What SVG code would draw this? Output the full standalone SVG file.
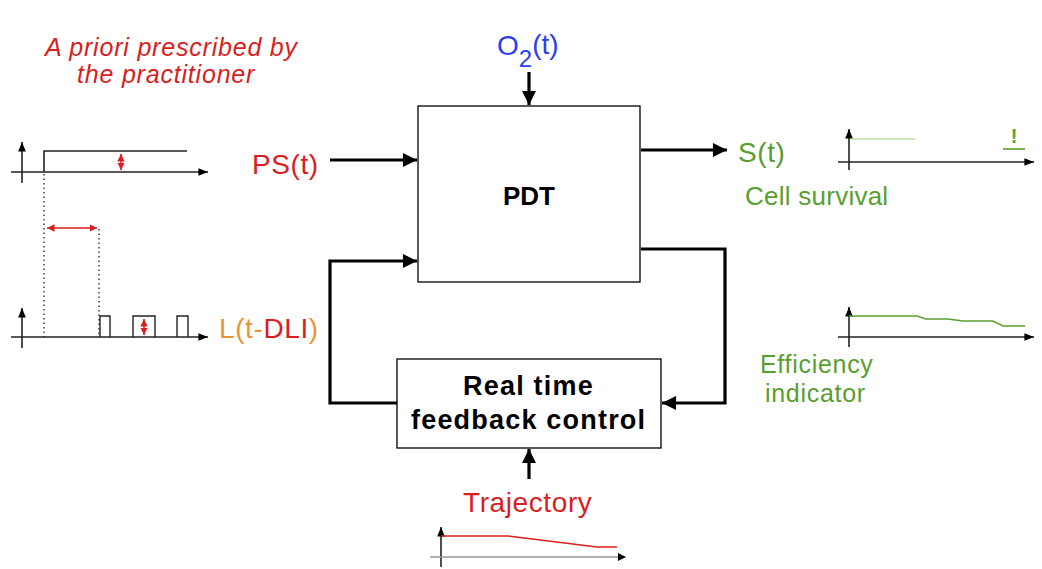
<svg xmlns="http://www.w3.org/2000/svg" width="1042" height="569" viewBox="0 0 1042 569">
<style>
text{font-family:"Liberation Sans",Arial,sans-serif}
.lbl{font-size:28px;letter-spacing:0.6px}
.glbl{font-size:26px;letter-spacing:0.25px}
.bold{font-weight:bold;font-size:27px;letter-spacing:1.2px;fill:#000}
.red{fill:#d81e1e}
.green{fill:#5a9e2f}
.orange{fill:#e8953a}
.blue{fill:#2a3ff0}
.box{fill:#fff;stroke:#000;stroke-width:1.3}
.conn{fill:none;stroke:#000;stroke-width:3.2}
.axis{fill:none;stroke:#222;stroke-width:1.6}
.sig{fill:none;stroke:#222;stroke-width:1.6}
.dot{fill:none;stroke:#222;stroke-width:1.3;stroke-dasharray:1.5 3}
.rarr{fill:none;stroke:#d81e1e;stroke-width:1.5}
</style>
<defs>
<marker id="ah" viewBox="0 0 10 10" refX="10" refY="5" markerWidth="5" markerHeight="4.4" markerUnits="strokeWidth" orient="auto">
<path d="M0,0 L10,5 L0,10 z" fill="#000"/>
</marker>
<marker id="axh" viewBox="0 0 10 10" refX="10" refY="5" markerWidth="6" markerHeight="6" markerUnits="strokeWidth" orient="auto">
<path d="M0,1 L10,5 L0,9 z" fill="#000"/>
</marker>
<marker id="rh" viewBox="0 0 10 10" refX="10" refY="5" markerWidth="5" markerHeight="5" markerUnits="strokeWidth" orient="auto-start-reverse">
<path d="M0,0 L10,5 L0,10 z" fill="#d81e1e"/>
</marker>
</defs>

<g id="note">
<text x="45" y="56" class="red" font-size="25" letter-spacing="0.8" font-style="italic">A priori prescribed by</text>
<text x="77" y="83" class="red" font-size="25" letter-spacing="0.8" font-style="italic">the practitioner</text>
</g>

<g id="ps-plot">
<line x1="22" y1="183" x2="22" y2="142" class="axis" marker-end="url(#axh)"/>
<line x1="11" y1="172" x2="208" y2="172" class="axis" marker-end="url(#axh)"/>
<polyline points="44,172 44,151 187,151" class="sig"/>
<line x1="121" y1="154" x2="121" y2="170" class="rarr" marker-start="url(#rh)" marker-end="url(#rh)"/>
<line x1="44" y1="174" x2="44" y2="337" class="dot"/>
<line x1="99" y1="229" x2="99" y2="337" class="dot"/>
<line x1="47" y1="228" x2="97" y2="228" class="rarr" marker-start="url(#rh)" marker-end="url(#rh)"/>
</g>

<g id="l-plot">
<line x1="22" y1="348" x2="22" y2="308" class="axis" marker-end="url(#axh)"/>
<line x1="11" y1="337" x2="208" y2="337" class="axis" marker-end="url(#axh)"/>
<polyline points="100,337 100,316 110,316 110,337" fill="none" stroke="#222" stroke-width="1.4"/>
<polyline points="133,337 133,316 155,316 155,337" fill="none" stroke="#222" stroke-width="1.4"/>
<polyline points="177,337 177,316 188,316 188,337" fill="none" stroke="#222" stroke-width="1.4"/>
<line x1="144" y1="319" x2="144" y2="335" class="rarr" marker-start="url(#rh)" marker-end="url(#rh)"/>
</g>

<g id="ps-label"><text x="252" y="174" class="lbl red">PS(t)</text></g>
<g id="l-label"><text x="219" y="338" class="lbl"><tspan class="orange">L(t-</tspan><tspan class="red">DLI</tspan><tspan class="orange">)</tspan></text></g>
<g id="o2-label"><text x="497" y="55" class="blue" font-size="28">O<tspan font-size="24" dy="12">2</tspan><tspan dy="-13">(t)</tspan></text></g>
<g id="s-label"><text x="738" y="162" class="lbl green">S(t)</text></g>
<g id="cell-survival"><text x="745" y="205" class="glbl green">Cell survival</text></g>
<g id="efficiency"><text x="760" y="373" class="green" font-size="25" letter-spacing="0.7">Efficiency</text><text x="765" y="402" class="green" font-size="25" letter-spacing="0.7">indicator</text></g>
<g id="trajectory"><text x="463" y="512" class="lbl red">Trajectory</text></g>

<g id="pdt">
<rect x="418" y="106" width="222" height="176" class="box"/>
<text x="529" y="205" font-weight="bold" font-size="26" text-anchor="middle">PDT</text>
</g>

<g id="feedback">
<rect x="397" y="359" width="264" height="89" class="box"/>
<text x="463" y="395" class="bold">Real time</text>
<text x="411" y="429" class="bold">feedback control</text>
</g>

<g id="connectors">
<line x1="529" y1="72" x2="529" y2="105" class="conn" marker-end="url(#ah)"/>
<line x1="330" y1="160" x2="417" y2="160" class="conn" marker-end="url(#ah)"/>
<line x1="641" y1="150" x2="727" y2="150" class="conn" marker-end="url(#ah)"/>
<polyline points="397,403 330,403 330,261 417,261" class="conn" marker-end="url(#ah)"/>
<polyline points="641,249 725,249 725,403 662,403" class="conn" marker-end="url(#ah)"/>
<line x1="529" y1="479" x2="529" y2="449" class="conn" marker-end="url(#ah)"/>
</g>

<g id="survival-plot">
<line x1="849" y1="170" x2="849" y2="129" class="axis" marker-end="url(#axh)"/>
<line x1="838" y1="162" x2="1034" y2="162" class="axis" marker-end="url(#axh)"/>
<line x1="850" y1="139" x2="915" y2="139" stroke="#9ed27a" stroke-width="1.2"/>
<text x="1014" y="143" class="green" font-size="20" font-weight="bold" text-anchor="middle">!</text>
<line x1="1003" y1="149" x2="1025" y2="149" stroke="#5a9e2f" stroke-width="1.6"/>
</g>

<g id="efficiency-plot">
<line x1="849" y1="347" x2="849" y2="307" class="axis" marker-end="url(#axh)"/>
<line x1="838" y1="337" x2="1034" y2="337" class="axis" marker-end="url(#axh)"/>
<polyline points="849,316 917,316 926,319 948,319 963,321 993,321 1003,326 1025,326" fill="none" stroke="#5a9e2f" stroke-width="1.5"/>
</g>

<g id="trajectory-plot">
<line x1="441" y1="567" x2="441" y2="527" class="axis" marker-end="url(#axh)"/>
<line x1="430" y1="557" x2="625" y2="557" stroke="#999" stroke-width="1.3"/>
<path d="M618,553 L626,557 L618,561 z" fill="#000"/>
<polyline points="441,536 508,536 597,547 617,547" fill="none" stroke="#d81e1e" stroke-width="1.5"/>
</g>
</svg>
